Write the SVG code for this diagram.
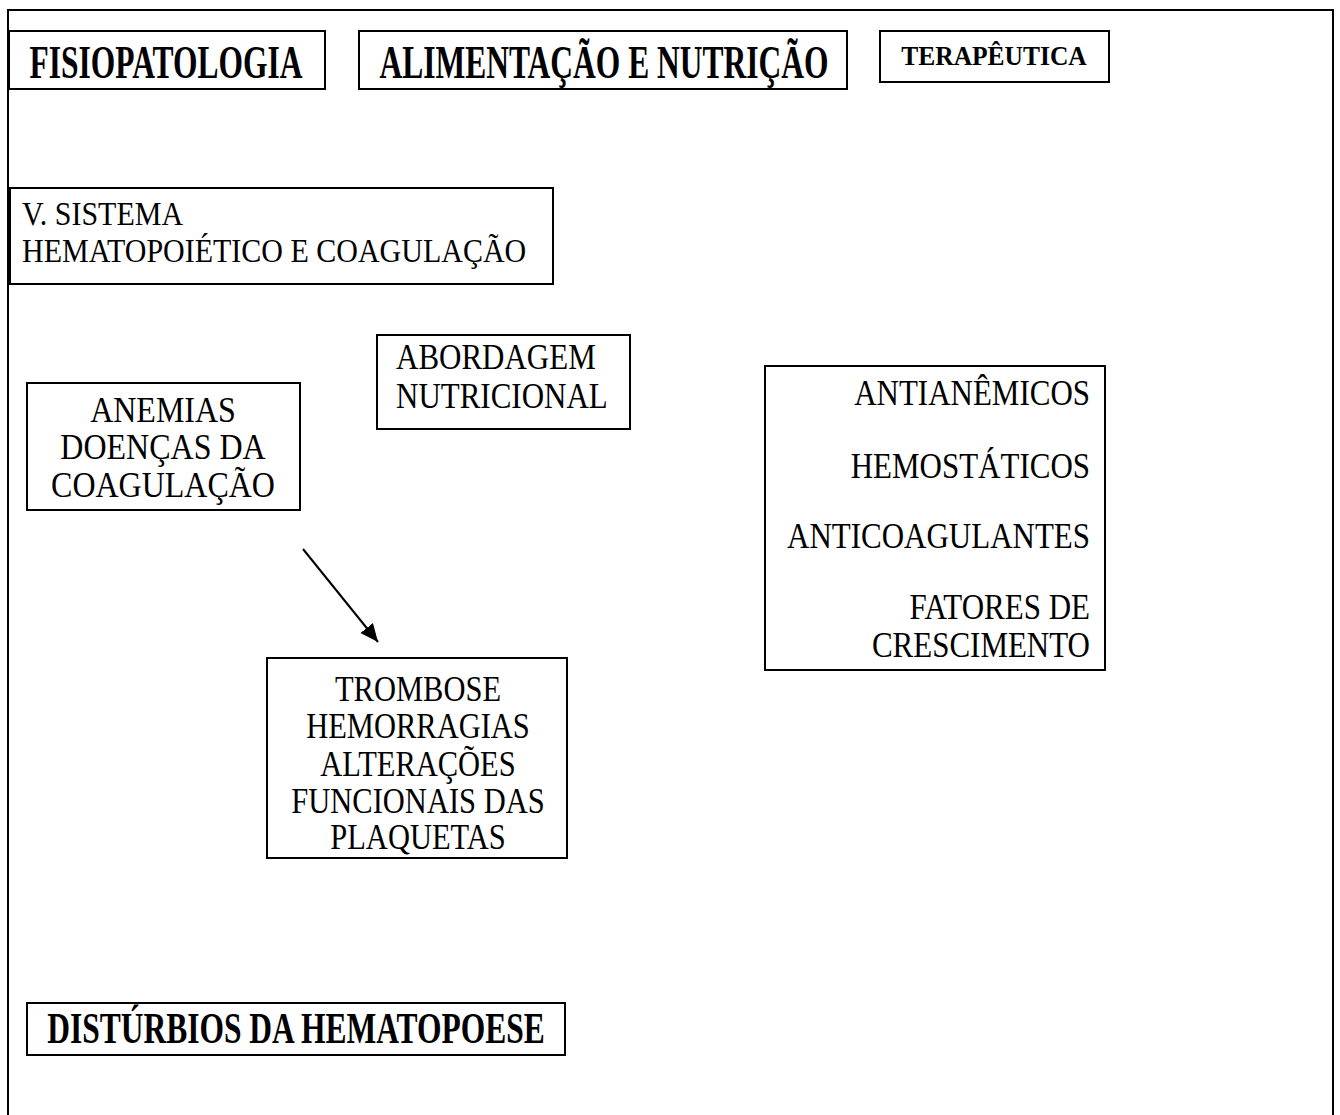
<svg xmlns="http://www.w3.org/2000/svg" width="1340" height="1115" viewBox="0 0 1340 1115">
<style>
.box{fill:#fff;stroke:#000;stroke-width:2}
.t{font-family:"Liberation Serif","Times New Roman",serif;font-size:31px;fill:#000}
.b{font-weight:bold;font-size:31.5px}
.c{text-anchor:middle}
.r{text-anchor:end}
</style>
<defs>
<marker id="ah" markerUnits="userSpaceOnUse" markerWidth="20" markerHeight="16" refX="18" refY="8" orient="auto">
<path d="M0,0 L18,8 L0,16 Z" fill="#000"/>
</marker>
</defs>
<rect x="8" y="10" width="1325" height="1120" fill="none" stroke="#000" stroke-width="2"/>
<g id="fisiopatologia">
<rect class="box" x="9" y="31" width="316" height="58"/>
<text class="t b c" transform="matrix(1 0 0 1.45 166 78)">FISIOPATOLOGIA</text>
</g>
<g id="alimentacao">
<rect class="box" x="359" y="31" width="488" height="58"/>
<text class="t b c" transform="matrix(1 0 0 1.45 604 78)">ALIMENTAÇÃO E NUTRIÇÃO</text>
</g>
<g id="terapeutica">
<rect class="box" x="880" y="31" width="229" height="51"/>
<text class="t b c" style="font-size:25.5px" transform="matrix(1 0 0 1.1 994 65)">TERAPÊUTICA</text>
</g>
<g id="sistema">
<rect class="box" x="10" y="188" width="543" height="96"/>
<text class="t" style="font-size:30px" transform="matrix(1 0 0 1.15 22 225)">V. SISTEMA</text>
<text class="t" style="font-size:30px" transform="matrix(1 0 0 1.15 22 262)">HEMATOPOIÉTICO E COAGULAÇÃO</text>
</g>
<g id="abordagem">
<rect class="box" x="377" y="335" width="253" height="94"/>
<text class="t" transform="matrix(1 0 0 1.15 396 369)">ABORDAGEM</text>
<text class="t" transform="matrix(1 0 0 1.15 396 408)">NUTRICIONAL</text>
</g>
<g id="anemias">
<rect class="box" x="27" y="383" width="273" height="127"/>
<text class="t c" style="font-size:32px" transform="matrix(1 0 0 1.15 163 422)">ANEMIAS</text>
<text class="t c" style="font-size:32px" transform="matrix(1 0 0 1.15 163 459)">DOENÇAS DA</text>
<text class="t c" style="font-size:32px" transform="matrix(1 0 0 1.15 163 497)">COAGULAÇÃO</text>
</g>
<g id="terapias">
<rect class="box" x="765" y="366" width="340" height="304"/>
<text class="t r" transform="matrix(1 0 0 1.15 1090 405)">ANTIANÊMICOS</text>
<text class="t r" transform="matrix(1 0 0 1.15 1090 478)">HEMOSTÁTICOS</text>
<text class="t r" transform="matrix(1 0 0 1.15 1090 548)">ANTICOAGULANTES</text>
<text class="t r" transform="matrix(1 0 0 1.15 1090 619)">FATORES DE</text>
<text class="t r" transform="matrix(1 0 0 1.15 1090 657)">CRESCIMENTO</text>
</g>
<g id="trombose">
<rect class="box" x="267" y="658" width="300" height="200"/>
<text class="t c" style="font-size:30.5px" transform="matrix(1 0 0 1.17 418 701)">TROMBOSE</text>
<text class="t c" style="font-size:30.5px" transform="matrix(1 0 0 1.17 418 738)">HEMORRAGIAS</text>
<text class="t c" style="font-size:30.5px" transform="matrix(1 0 0 1.17 418 776)">ALTERAÇÕES</text>
<text class="t c" style="font-size:30.5px" transform="matrix(1 0 0 1.17 418 813)">FUNCIONAIS DAS</text>
<text class="t c" style="font-size:30.5px" transform="matrix(1 0 0 1.17 418 849)">PLAQUETAS</text>
</g>
<g id="disturbios">
<rect class="box" x="27" y="1003" width="538" height="52"/>
<text class="t b c" transform="matrix(1 0 0 1.4 296 1043)">DISTÚRBIOS DA HEMATOPOESE</text>
</g>
<g id="connectors">
<line x1="303" y1="549" x2="378" y2="642" stroke="#000" stroke-width="2" marker-end="url(#ah)"/>
</g>
</svg>
